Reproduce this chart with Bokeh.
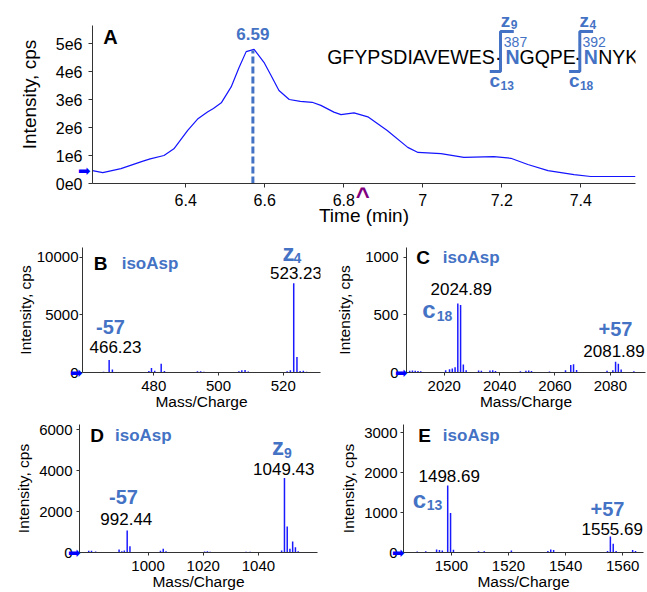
import math
from bokeh.plotting import figure
from bokeh.models import Label, FixedTicker, Range1d, LinearAxis
from bokeh.layouts import column, row
from bokeh.embed import file_html
from bokeh.resources import INLINE

FONT = "Liberation Sans"
ANN = "#4472C4"
STICK = "#1a1aff"

# ---------------- data ----------------
# Panel A: extracted ion chromatogram
rt_min = [6.164, 6.19, 6.236, 6.29, 6.31, 6.345, 6.37, 6.405, 6.43, 6.455, 6.47, 6.49,
          6.515, 6.535, 6.553, 6.573, 6.598, 6.616, 6.636, 6.662, 6.69, 6.72, 6.742,
          6.775, 6.793, 6.826, 6.861, 6.91, 6.962, 6.988, 7.046, 7.104, 7.18, 7.223,
          7.266, 7.317, 7.383, 7.425, 7.5385]
intensity_e6 = [0.46, 0.39, 0.53, 0.79, 0.88, 1.0, 1.24, 1.9, 2.3, 2.55, 2.68, 2.88,
                3.45, 4.14, 4.71, 4.79, 4.33, 3.86, 3.32, 3.0, 2.93, 2.9, 2.79,
                2.55, 2.46, 2.52, 2.38, 1.89, 1.29, 1.11, 1.07, 0.93, 0.96, 0.9,
                0.68, 0.46, 0.32, 0.25, 0.25]
peak_rt = 6.57
peak_top_e6 = 4.75
peak_label = "6.59"
marker_rt = 6.848
start_level_e6 = 0.44
A_xticks = [6.4, 6.6, 6.8, 7.0, 7.2, 7.4]
A_yticks = [0, 1e6, 2e6, 3e6, 4e6, 5e6]
A_ylabels = ["0e0", "1e6", "2e6", "3e6", "4e6", "5e6"]

# Panel B: z4 region
B_mz = [460.5, 462.0, 464.5, 466.23, 467.23, 478.5, 479.3, 480.3, 482.3, 483.3, 484.3,
        493.5, 494.5, 495.5, 501.0, 506.3, 507.2, 508.2, 509.2, 512.0, 517.0,
        521.2, 522.2, 523.23, 524.23, 525.2, 526.2, 527.2]
B_int = [40, 50, 60, 1090, 250, 130, 400, 150, 760, 120, 50,
         100, 100, 70, 50, 100, 200, 210, 80, 50, 40,
         100, 200, 7750, 1350, 120, 160, 70]
B_xticks = [480, 500, 520]
B_yticks = [0, 5000, 10000]

# Panel C: c18 region
C_mz = [2007.5, 2008.5, 2009.5, 2010.5, 2011.5, 2020.5, 2021.9, 2022.9, 2023.9,
        2024.89, 2025.89, 2026.89, 2027.9, 2032.4, 2033.4, 2036.5, 2037.5, 2038.5,
        2047.5, 2049.5, 2050.5, 2051.5, 2058.0, 2063.8, 2065.7, 2066.7, 2067.8,
        2078.8, 2080.9, 2081.89, 2082.89, 2083.9, 2088.5]
C_int = [15, 18, 15, 12, 10, 20, 28, 35, 45,
         600, 585, 70, 20, 18, 15, 18, 20, 12,
         10, 15, 18, 12, 8, 20, 65, 72, 22,
         15, 20, 93, 76, 25, 10]
C_xticks = [2020, 2040, 2060, 2080]
C_yticks = [0, 500, 1000]

# Panel D: z9 region
D_mz = [978.5, 979.5, 981.0, 989.5, 990.5, 991.4, 992.44, 993.44, 1004.5, 1005.5,
        1006.5, 1020.5, 1021.5, 1022.5, 1035.5, 1037.0, 1038.5, 1042.0,
        1048.4, 1049.43, 1050.43, 1051.4, 1052.4, 1053.4, 1054.4]
D_int = [90, 80, 50, 150, 60, 100, 1070, 310, 90, 180,
         60, 50, 60, 40, 40, 40, 30, 30,
         100, 3640, 1270, 180, 540, 260, 60]
D_xticks = [1000, 1020, 1040]
D_yticks = [0, 2000, 4000, 6000]

# Panel E: c13 region
E_mz = [1488.0, 1491.0, 1494.8, 1495.8, 1496.8, 1498.69, 1499.69, 1500.7, 1509.5,
        1511.5, 1521.0, 1533.8, 1534.8, 1535.8, 1554.7, 1555.69, 1556.69, 1557.7,
        1563.5, 1564.5]
E_int = [25, 30, 75, 60, 50, 1675, 990, 70, 30,
         30, 50, 40, 75, 60, 40, 400, 220, 40,
         60, 40]
E_xticks = [1500, 1520, 1540, 1560]
E_yticks = [0, 1000, 2000, 3000]


# ---------------- helpers ----------------
def panel(page_box, frame_box, xr, yr):
    x0, y0, x1, y1 = page_box
    L, T, R, B = frame_box
    p = figure(width=x1 - x0, height=y1 - y0,
               x_range=Range1d(*xr), y_range=Range1d(*yr),
               output_backend="svg", toolbar_location=None,
               min_border_left=L - x0, min_border_right=x1 - R,
               min_border_top=T - y0, min_border_bottom=y1 - B)
    p.xgrid.visible = False
    p.ygrid.visible = False
    p.outline_line_color = None
    p.background_fill_color = "white"
    p.border_fill_color = "white"

    def fx(px):
        return xr[0] + (px - L) * (xr[1] - xr[0]) / (R - L)

    def fy(py):
        return yr[0] + (B - py) * (yr[1] - yr[0]) / (B - T)

    return p, fx, fy


def lab(p, fx, fy, px, py, text, size, color="black", bold=False, align="center",
        angle=0.0, baseline="middle", font=FONT):
    p.add_layout(Label(x=fx(px), y=fy(py), text=text, text_font=font,
                       text_font_size=f"{size}px",
                       text_font_style="bold" if bold else "normal",
                       text_color=color, text_align=align, text_baseline=baseline,
                       angle=angle))


def style_axes(p, xticks, yticks, tick_size, lab_size, xlabel, ylabel,
               ylabels=None, ystand=3, ylabstand=2, xlabstand=-1):
    xa = p.xaxis[0]
    ya = p.yaxis[0]
    xa.ticker = FixedTicker(ticks=xticks, minor_ticks=[])
    ya.ticker = FixedTicker(ticks=yticks, minor_ticks=[])
    if ylabels:
        ya.major_label_overrides = {t: s for t, s in zip(yticks, ylabels)}
    for ax in (xa, ya):
        ax.axis_line_color = "#333333"
        ax.major_tick_line_color = "#333333"
        ax.minor_tick_line_color = None
        ax.minor_tick_out = 0
        ax.minor_tick_in = 0
        ax.major_tick_in = 0
        ax.major_tick_out = 3
        ax.major_label_text_font = FONT
        ax.major_label_text_font_size = f"{tick_size}px"
        ax.major_label_text_color = "black"
        ax.axis_label_text_font = FONT
        ax.axis_label_text_font_size = f"{lab_size}px"
        ax.axis_label_text_font_style = "normal"
        ax.axis_label_text_color = "black"
    xa.major_label_standoff = 5
    ya.major_label_standoff = ystand
    if xlabel:
        xa.axis_label = xlabel
        xa.axis_label_standoff = xlabstand
    if ylabel:
        ya.axis_label = ylabel
        ya.axis_label_standoff = ylabstand


def bare_axis(**kw):
    # an extra axis without a rule or ticks (used for titles and marker glyphs)
    base = dict(axis_line_color=None, major_tick_line_color=None,
                minor_tick_line_color=None, major_tick_out=0, major_tick_in=0,
                minor_tick_out=0, minor_tick_in=0)
    base.update(kw)
    return LinearAxis(**base)


def title_axis(text, size, bounds, standoff):
    return bare_axis(ticker=FixedTicker(ticks=[], minor_ticks=[]), bounds=bounds,
                     axis_label=text, axis_label_text_font=FONT,
                     axis_label_text_font_size=f"{size}px",
                     axis_label_text_font_style="normal",
                     axis_label_text_color="black", axis_label_standoff=standoff)


def marker_axis(tick, text, standoff, color, font, size, bold=False):
    return bare_axis(ticker=FixedTicker(ticks=[tick], minor_ticks=[]),
                     major_label_overrides={tick: text},
                     major_label_standoff=standoff,
                     major_label_text_color=color,
                     major_label_text_font=font,
                     major_label_text_font_style="bold" if bold else "normal",
                     major_label_text_font_size=f"{size}px")


def arrow_axis(p, yval, standoff):
    # start-of-trace arrow drawn just left of the y axis line
    p.add_layout(marker_axis(yval, "\u27A1", standoff, "#0000ff", "DejaVu Sans", 15), "left")


def sticks(p, mz, ints):
    p.segment(x0=mz, y0=[0] * len(mz), x1=mz, y1=ints,
              line_color=STICK, line_width=1.5)


# ---------------- Panel A ----------------
A_x = (6.164, 7.5385)
A_ytop = 5.643e6
pA, fxA, fyA = panel((0, 0, 647, 230), (92, 5, 635, 183), A_x,
                     (0, A_ytop + 20 * A_ytop / 158))
style_axes(pA, A_xticks, A_yticks, 16, 19, None, None,
           ylabels=A_ylabels, ystand=6)
pA.yaxis[0].bounds = (0, A_ytop)
pA.xaxis[0].major_tick_out = 4
pA.xaxis[0].major_label_standoff = 6
pA.yaxis[0].major_tick_out = 4
# axis titles, centred where the reference has them
pA.add_layout(title_axis("Intensity, cps", 19, (0, 2 * fyA(116.7)), 13), "left")
pA.add_layout(title_axis("Time (min)", 19, (A_x[0], 2 * fxA(350) - A_x[0]), -4), "below")
pA.line(rt_min, [v * 1e6 for v in intensity_e6], line_color="#1414ff", line_width=1.2)
pA.segment(x0=[peak_rt], y0=[0], x1=[peak_rt], y1=[peak_top_e6 * 1e6],
           line_color=ANN, line_width=3, line_dash="7 3")
lab(pA, fxA, fyA, 110, 36.7, "A", 20, bold=True)
pA.add_layout(Label(x=peak_rt, y=fyA(33.3), text=peak_label, text_font=FONT,
                    text_font_size="17px", text_font_style="bold", text_color=ANN,
                    text_align="center", text_baseline="middle"))
# peptide sequence
pep_y = 56.7
pieces = [("GFYPSDIAVEWES", 326.7, "black", False),
          ("\u00B7", 494.5, "black", False),
          ("N", 505, ANN, True),
          ("GQPE", 519, "black", False),
          ("\u00B7", 573.8, "black", False),
          ("N", 583.3, ANN, True),
          ("NYK", 597.7, "black", False)]
for txt, px, col, b in pieces:
    lab(pA, fxA, fyA, px, pep_y, txt, 19.5, color=col, bold=b, align="left")
for zx, sub, num_x, num, cx, csub in [(505, "9", 515, "387", 494.3, "13"),
                                       (583.7, "4", 593.7, "392", 573.7, "18")]:
    lab(pA, fxA, fyA, zx, 20, "z", 19, color=ANN, bold=True)
    lab(pA, fxA, fyA, zx + 8.7, 24, sub, 12, color=ANN, bold=True)
    lab(pA, fxA, fyA, num_x, 41.7, num, 14, color=ANN)
    lab(pA, fxA, fyA, cx, 80, "c", 19, color=ANN, bold=True)
    lab(pA, fxA, fyA, cx + 12.4, 85.3, csub, 12, color=ANN, bold=True)
for bx in (500, 579.3):
    pA.line([fxA(bx + 13.3), fxA(bx), fxA(bx), fxA(bx - 10.7)],
            [fyA(31), fyA(31), fyA(71), fyA(71)], line_color=ANN, line_width=3)
arrow_axis(pA, start_level_e6 * 1e6, -75)
# purple marker just under the time axis
pA.add_layout(marker_axis(marker_rt, "^", -47, "#800080", FONT, 24, bold=True), "below")

# ---------------- Panel B ----------------
B_x = (458.0, 531.5)
pB, fxB, fyB = panel((0, 230, 330, 412), (82, 245, 320, 374), B_x, (0, 10840))
style_axes(pB, B_xticks, B_yticks, 15, 15.5, "Mass/Charge", "Intensity, cps",
           ystand=1, ylabstand=0)
sticks(pB, B_mz, B_int)
lab(pB, fxB, fyB, 100, 262, "B", 19, bold=True)
lab(pB, fxB, fyB, 149.5, 261, "isoAsp", 17, color=ANN, bold=True)
lab(pB, fxB, fyB, 288, 250, "z", 24, color=ANN, bold=True)
lab(pB, fxB, fyB, 297, 256, "4", 14, color=ANN, bold=True)
lab(pB, fxB, fyB, 295.5, 271.7, "523.23", 17)
lab(pB, fxB, fyB, 110, 326.7, "-57", 20, color=ANN, bold=True)
lab(pB, fxB, fyB, 115, 347.7, "466.23", 17)
arrow_axis(pB, 0, -69)

# ---------------- Panel C ----------------
C_x = (2006.35, 2092.7)
pC, fxC, fyC = panel((330, 230, 647, 412), (406, 247, 645, 375), C_x, (0, 1085))
style_axes(pC, C_xticks, C_yticks, 15, 15.5, "Mass/Charge", "Intensity, cps",
           ystand=5, ylabstand=9)
sticks(pC, C_mz, C_int)
lab(pC, fxC, fyC, 422.7, 257.3, "C", 19, bold=True)
lab(pC, fxC, fyC, 470.7, 257.3, "isoAsp", 17, color=ANN, bold=True)
lab(pC, fxC, fyC, 460.7, 289.3, "2024.89", 17)
lab(pC, fxC, fyC, 428.3, 310.7, "c", 24, color=ANN, bold=True)
lab(pC, fxC, fyC, 444, 317.3, "18", 14, color=ANN, bold=True)
lab(pC, fxC, fyC, 615, 330.7, "+57", 20, color=ANN, bold=True)
lab(pC, fxC, fyC, 613.5, 353.3, "2081.89", 17)
arrow_axis(pC, 0, -74)

# ---------------- Panel D ----------------
D_x = (975.16, 1061.4)
pD, fxD, fyD = panel((0, 412, 330, 592), (79, 424, 317, 552), D_x, (0, 6244))
style_axes(pD, D_xticks, D_yticks, 15, 15.5, "Mass/Charge", "Intensity, cps",
           ystand=4, ylabstand=4)
sticks(pD, D_mz, D_int)
lab(pD, fxD, fyD, 96.7, 435, "D", 19, bold=True)
lab(pD, fxD, fyD, 142.8, 435, "isoAsp", 17, color=ANN, bold=True)
lab(pD, fxD, fyD, 277.5, 446, "z", 24, color=ANN, bold=True)
lab(pD, fxD, fyD, 287.5, 452, "9", 14, color=ANN, bold=True)
lab(pD, fxD, fyD, 283.3, 468.3, "1049.43", 17)
lab(pD, fxD, fyD, 123, 496, "-57", 20, color=ANN, bold=True)
lab(pD, fxD, fyD, 125.8, 518.3, "992.44", 17)
arrow_axis(pD, 0, -68)

# ---------------- Panel E ----------------
E_x = (1483.2, 1567.3)
pE, fxE, fyE = panel((330, 412, 647, 592), (403, 423, 643, 552), E_x, (0, 3200))
style_axes(pE, E_xticks, E_yticks, 15, 15.5, "Mass/Charge", "Intensity, cps",
           ystand=3, ylabstand=4)
sticks(pE, E_mz, E_int)
lab(pE, fxE, fyE, 424, 434.3, "E", 19, bold=True)
lab(pE, fxE, fyE, 470.7, 434.3, "isoAsp", 17, color=ANN, bold=True)
lab(pE, fxE, fyE, 448.7, 475, "1498.69", 17)
lab(pE, fxE, fyE, 419, 498.3, "c", 24, color=ANN, bold=True)
lab(pE, fxE, fyE, 434, 504.5, "13", 14, color=ANN, bold=True)
lab(pE, fxE, fyE, 607, 508.3, "+57", 20, color=ANN, bold=True)
lab(pE, fxE, fyE, 611.7, 528.3, "1555.69", 17)
arrow_axis(pE, 0, -67)

layout = column(pA, row(pB, pC), row(pD, pE))
open("out.html", "w").write(file_html(layout, INLINE))
